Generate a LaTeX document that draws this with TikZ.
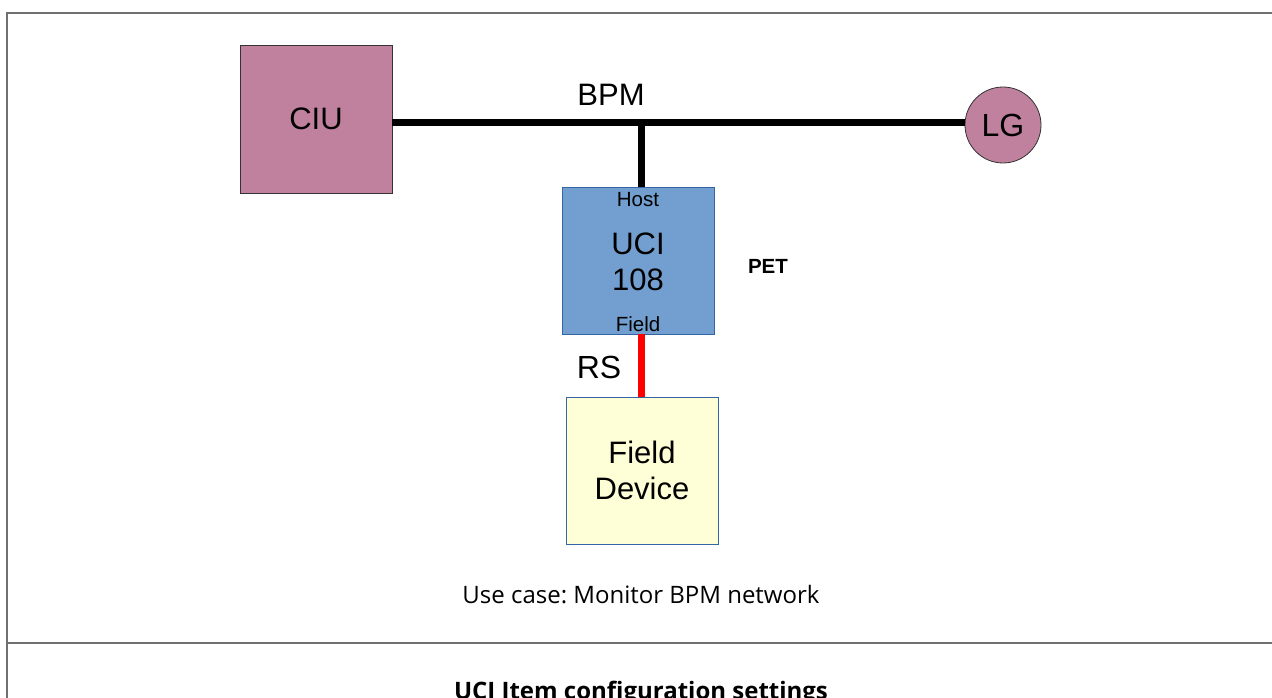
\documentclass[tikz,border=0pt]{standalone}
\usepackage{fontspec}
\setmainfont{Liberation Sans}
\newfontfamily\notefont{Open Sans}
\frenchspacing
\definecolor{mauve}{RGB}{191,129,158}
\definecolor{ublue}{RGB}{114,159,207}
\definecolor{bblue}{RGB}{52,101,164}
\definecolor{fyellow}{RGB}{255,255,215}
\definecolor{framegray}{RGB}{112,112,112}
\tikzset{
  bigtxt/.style={font=\fontsize{31}{36}\selectfont, align=center},
  smalltxt/.style={font=\fontsize{20.5}{24}\selectfont},
  pinkbox/.style={draw=black!80, fill=mauve, line width=0.8pt, minimum width=152pt, minimum height=148pt, inner sep=0pt, bigtxt},
  ucibox/.style={draw=bblue, fill=ublue, line width=0.8pt, minimum width=152pt, minimum height=147pt, inner sep=0pt, bigtxt},
  fdbox/.style={draw=bblue, fill=fyellow, line width=0.8pt, minimum width=152pt, minimum height=147pt, inner sep=0pt, bigtxt},
  bus/.style={line width=7pt},
  rsline/.style={line width=7pt, draw=red},
  framel/.style={draw=framegray, line width=1.5pt}
}
\begin{document}
\begin{tikzpicture}[x=1pt,y=-1pt]
\useasboundingbox (0,0) rectangle (1272,698);
\clip (0,0) rectangle (1272,698);
% frame
\draw[framel] (7,698) -- (7,13) -- (1272,13);
\draw[framel] (7,643) -- (1272,643);
% nodes
\node[pinkbox] (ciu) at (316,119) {CIU};
\node[circle, draw=black!80, fill=mauve, line width=0.8pt, minimum size=76pt, inner sep=0pt, bigtxt, font=\fontsize{32}{36}\selectfont] (lg) at (1003,125) {LG};
\node[ucibox] (uci) at (638,260.5) {};
\node[bigtxt] (ucit) at (638,262) {UCI\\108};
\node[smalltxt] (host) at (638,200) {Host};
\node[smalltxt] (fieldp) at (638,324) {Field};
\node[fdbox] (fd) at (642,470.5) {Field\\Device};
\coordinate (tee) at (641,123);
% connectors
\draw[bus] (ciu.east |- tee) -- (tee) -- (lg.west |- tee);
\draw[bus] (tee) -- (tee |- uci.north);
\draw[rsline] (uci.south -| tee) -- (fd.north -| tee);
% labels
\node[bigtxt] (bpm) at (611,95) {BPM};
\node[bigtxt, font=\fontsize{32}{36}\selectfont] (rs) at (599,367) {RS};
\node[font=\bfseries\fontsize{20.5}{24}\selectfont] (pet) at (768,266) {PET};
\node[font=\notefont\fontsize{24}{28}\selectfont] (uc) at (641,595) {Use case: Monitor BPM network};
\node[font=\notefont\bfseries\fontsize{24}{28}\selectfont] (cfg) at (641,693) {UCI Item configuration settings};
\end{tikzpicture}
\end{document}
